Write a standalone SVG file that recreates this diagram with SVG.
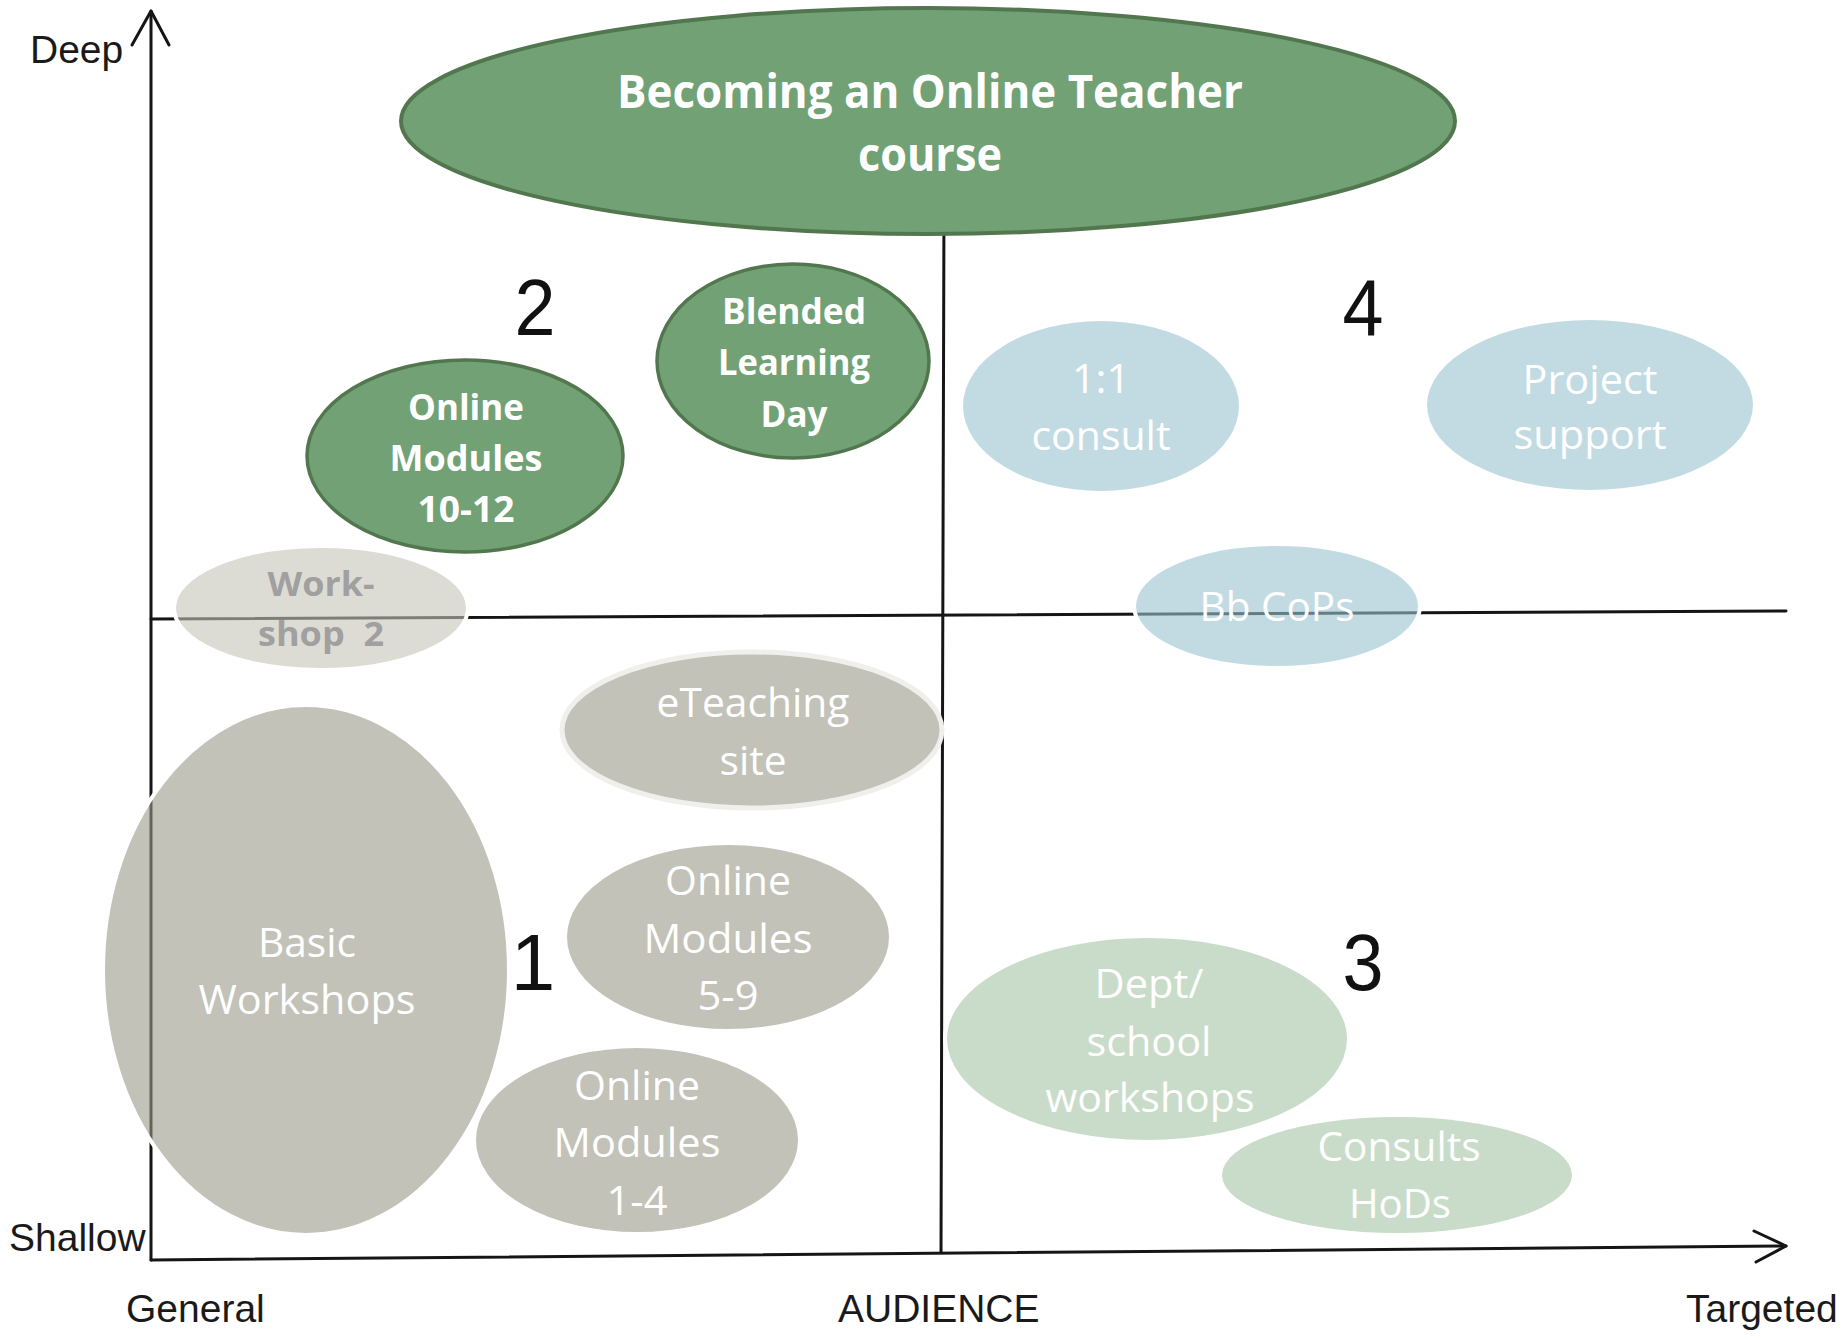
<svg xmlns="http://www.w3.org/2000/svg" width="1845" height="1340" viewBox="0 0 1845 1340">
<style>
.ax{stroke:#151515;stroke-width:3;fill:none;stroke-linecap:round;stroke-linejoin:round}
.lbl{font-family:"Liberation Sans",Arial,sans-serif;font-size:39px;fill:#1a1a1a}
.num{font-family:"Liberation Sans",Arial,sans-serif;font-size:80px;fill:#111;text-anchor:middle}
.t{font-family:"Open Sans","Noto Sans",sans-serif;font-size:41px;fill:#ffffff;text-anchor:middle}
.b{font-family:"Open Sans","Noto Sans",sans-serif;font-weight:bold;font-size:35px;fill:#ffffff;text-anchor:middle}
.dg{fill:#71a175;stroke:#52774f;stroke-width:3.5}
.bl{fill:#c2dbe2}
.lg{fill:#c9dcc9}
.gr{fill:#c2c2b9}
</style>
<rect width="1845" height="1340" fill="#ffffff"/>
<g id="connectors">
<line class="ax" x1="151" y1="1260" x2="151" y2="11"/>
<polyline class="ax" points="132,45 151,11 169,45"/>
<line class="ax" x1="151" y1="1260" x2="1786" y2="1246"/>
<polyline class="ax" points="1754,1231 1786,1246 1756,1262"/>
<line class="ax" x1="151" y1="619" x2="1786" y2="611"/>
<line class="ax" x1="944" y1="200" x2="941" y2="1252"/>
</g>
<g id="labels">
<text class="lbl" x="30" y="63">Deep</text>
<text class="lbl" x="9" y="1251">Shallow</text>
<text class="lbl" x="126" y="1322">General</text>
<text class="lbl" x="838" y="1322">AUDIENCE</text>
<text class="lbl" x="1686" y="1322">Targeted</text>
<text class="num" x="535" y="335" textLength="41" lengthAdjust="spacingAndGlyphs">2</text>
<text class="num" x="1363" y="335" textLength="41" lengthAdjust="spacingAndGlyphs">4</text>
<text class="num" x="533" y="990">1</text>
<text class="num" x="1363" y="990" textLength="41" lengthAdjust="spacingAndGlyphs">3</text>
</g>
<g id="node-becoming">
<ellipse cx="928" cy="121" rx="527" ry="113" fill="#71a175" stroke="#52774f" stroke-width="4"/>
<text class="b" x="930" y="108" style="font-size:46px" textLength="626" lengthAdjust="spacingAndGlyphs">Becoming an Online Teacher</text>
<text class="b" x="930" y="171" style="font-size:46px" textLength="144" lengthAdjust="spacingAndGlyphs">course</text>
</g>
<g id="node-modules-10-12">
<ellipse class="dg" cx="465" cy="456" rx="158" ry="96"/>
<text class="b" x="466" y="420" textLength="116" lengthAdjust="spacingAndGlyphs">Online</text>
<text class="b" x="466" y="471" textLength="153" lengthAdjust="spacingAndGlyphs">Modules</text>
<text class="b" x="466" y="522" textLength="97" lengthAdjust="spacingAndGlyphs">10-12</text>
</g>
<g id="node-blended">
<ellipse class="dg" cx="793" cy="361" rx="136" ry="97"/>
<text class="b" x="794" y="324" textLength="144" lengthAdjust="spacingAndGlyphs">Blended</text>
<text class="b" x="794" y="375" textLength="152" lengthAdjust="spacingAndGlyphs">Learning</text>
<text class="b" x="794" y="427" textLength="67" lengthAdjust="spacingAndGlyphs">Day</text>
</g>
<g id="node-consult">
<ellipse class="bl" cx="1101" cy="406" rx="138" ry="85"/>
<text class="t" x="1101" y="393" textLength="58" lengthAdjust="spacingAndGlyphs">1:1</text>
<text class="t" x="1101" y="450" textLength="139" lengthAdjust="spacingAndGlyphs">consult</text>
</g>
<g id="node-project">
<ellipse class="bl" cx="1590" cy="405" rx="163" ry="85"/>
<text class="t" x="1590" y="394" textLength="135" lengthAdjust="spacingAndGlyphs">Project</text>
<text class="t" x="1590" y="449" textLength="153" lengthAdjust="spacingAndGlyphs">support</text>
</g>
<g id="node-bbcops">
<ellipse cx="1277" cy="606" rx="143" ry="62" fill="#99c3cf" fill-opacity="0.6" stroke="#ffffff" stroke-width="4"/>
<text class="t" x="1277" y="621" textLength="155" lengthAdjust="spacingAndGlyphs">Bb CoPs</text>
</g>
<g id="node-workshop2">
<ellipse cx="321" cy="608" rx="147" ry="62" fill="#c6c5b7" fill-opacity="0.6" stroke="#ffffff" stroke-width="4"/>
<text class="b" x="321" y="596" style="font-size:34px;fill:#a0a0a0" textLength="107" lengthAdjust="spacingAndGlyphs">Work-</text>
<text class="b" x="321" y="646" style="font-size:34px;fill:#a0a0a0" xml:space="preserve" textLength="126" lengthAdjust="spacingAndGlyphs">shop  2</text>
</g>
<g id="node-eteaching">
<ellipse class="gr" cx="752" cy="730" rx="190" ry="78" stroke="#efefec" stroke-width="5"/>
<text class="t" x="753" y="717" textLength="193" lengthAdjust="spacingAndGlyphs">eTeaching</text>
<text class="t" x="753" y="775" textLength="67" lengthAdjust="spacingAndGlyphs">site</text>
</g>
<g id="node-basic">
<ellipse cx="306" cy="970" rx="203" ry="265" fill="#99998a" fill-opacity="0.6" stroke="#ffffff" stroke-width="4"/>
<text class="t" x="307" y="957" textLength="98" lengthAdjust="spacingAndGlyphs">Basic</text>
<text class="t" x="307" y="1014" textLength="217" lengthAdjust="spacingAndGlyphs">Workshops</text>
</g>
<g id="node-modules-5-9">
<ellipse class="gr" cx="728" cy="937" rx="163" ry="94" stroke="#ffffff" stroke-width="4"/>
<text class="t" x="728" y="895" textLength="126" lengthAdjust="spacingAndGlyphs">Online</text>
<text class="t" x="728" y="953" textLength="169" lengthAdjust="spacingAndGlyphs">Modules</text>
<text class="t" x="728" y="1010" textLength="61" lengthAdjust="spacingAndGlyphs">5-9</text>
</g>
<g id="node-modules-1-4">
<ellipse class="gr" cx="637" cy="1140" rx="163" ry="94" stroke="#ffffff" stroke-width="4"/>
<text class="t" x="637" y="1100" textLength="126" lengthAdjust="spacingAndGlyphs">Online</text>
<text class="t" x="637" y="1157" textLength="167" lengthAdjust="spacingAndGlyphs">Modules</text>
<text class="t" x="637" y="1215" textLength="61" lengthAdjust="spacingAndGlyphs">1-4</text>
</g>
<g id="node-dept">
<ellipse class="lg" cx="1147" cy="1039" rx="202" ry="103" stroke="#ffffff" stroke-width="4"/>
<text class="t" x="1149" y="998" textLength="109" lengthAdjust="spacingAndGlyphs">Dept/</text>
<text class="t" x="1149" y="1056" textLength="125" lengthAdjust="spacingAndGlyphs">school</text>
<text class="t" x="1150" y="1112" textLength="209" lengthAdjust="spacingAndGlyphs">workshops</text>
</g>
<g id="node-consults-hods">
<ellipse class="lg" cx="1397" cy="1175" rx="175" ry="58"/>
<text class="t" x="1399" y="1161" textLength="163" lengthAdjust="spacingAndGlyphs">Consults</text>
<text class="t" x="1400" y="1218" textLength="102" lengthAdjust="spacingAndGlyphs">HoDs</text>
</g>
</svg>
